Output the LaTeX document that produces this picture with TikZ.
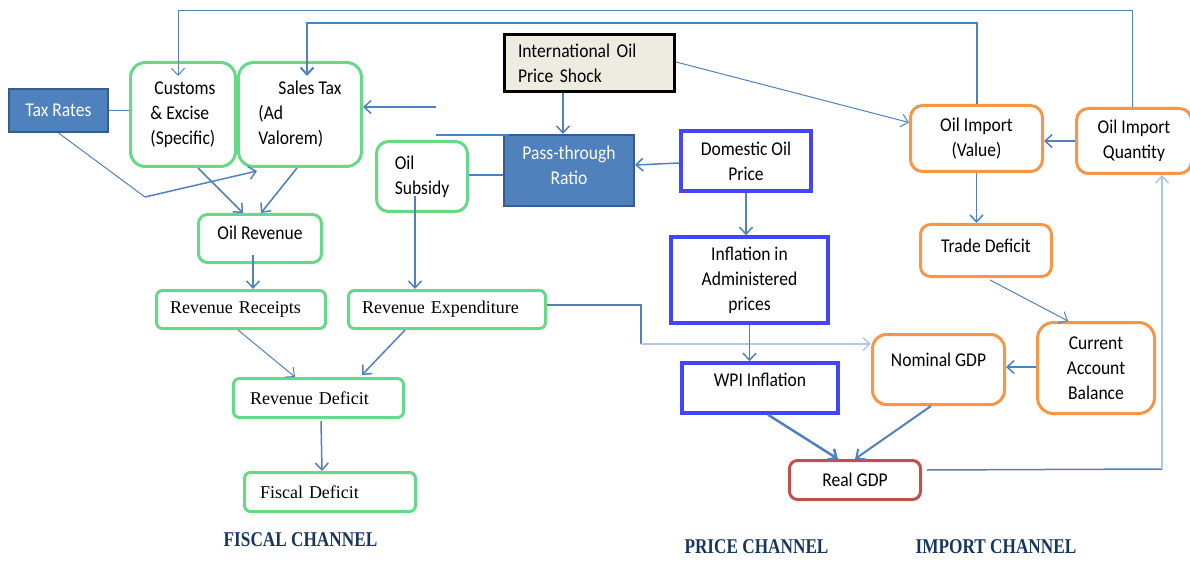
\documentclass[tikz,border=0pt]{standalone}
\usepackage{fontspec}
\setmainfont{Carlito}[FakeStretch=0.9]
\newfontfamily\serfam{Liberation Serif}
\newfontfamily\chanfam{Liberation Serif}[FakeStretch=0.82]
\usetikzlibrary{arrows.meta,calc}
\newcommand\myCal{\fontsize{19.5}{25}\selectfont}
\newcommand\mySer{\serfam\fontsize{18}{22}\selectfont}
\newcommand\myChan{\chanfam\bfseries\fontsize{21}{24}\selectfont}
\definecolor{lnblue}{RGB}{79,129,189}
\definecolor{lnlight}{RGB}{175,200,232}
\definecolor{grn}{RGB}{102,217,137}
\definecolor{org}{RGB}{247,150,70}
\definecolor{bbl}{RGB}{68,68,248}
\definecolor{rd}{RGB}{192,80,77}
\definecolor{fillb}{RGB}{79,129,189}
\definecolor{bordb}{RGB}{56,93,138}
\definecolor{beige}{RGB}{238,236,225}
\definecolor{navy}{RGB}{23,54,93}
\tikzset{
 base/.style={inner sep=0pt, align=center, font=\myCal, text=black},
 sz/.style 2 args={minimum width=#1, minimum height=#2},
 gbox/.style={base, draw=grn, line width=3pt, rounded corners=9pt, fill=white},
 obox/.style={base, draw=org, line width=3pt, rounded corners=12pt, fill=white},
 bbox/.style={base, draw=bbl, line width=3.5pt, fill=white},
 rbox/.style={base, draw=rd, line width=3pt, rounded corners=8pt, fill=white},
 sbox/.style={base, draw=bordb, fill=fillb, line width=2pt, text=white},
 kbox/.style={base, draw=black, fill=beige, line width=3pt},
 sertext/.style={font=\mySer},
 ln/.style={draw=lnblue, line width=1.5pt},
 arr/.style={ln, -{Straight Barb[length=7pt,width=13pt]}},
 thinarr/.style={arr, line width=1pt},
 chan/.style={font=\myChan, text=navy},
}
\begin{document}
\begin{tikzpicture}[x=1pt,y=-1pt]
\useasboundingbox (0,0) rectangle (1190,561);

% ---- nodes ----
\node[sbox, sz={99}{43}] (taxr) at (58.5,110.5) {Tax Rates};
\node[gbox, sz={105}{104}, rounded corners=15pt, align=left] (cust) at (183,114.5) {\hspace*{4pt}Customs\\\& Excise\\(Specific)};
\node[gbox, sz={123}{104}, rounded corners=15pt, align=left] (sales) at (300,114.5) {\hspace*{20pt}Sales Tax\\(Ad\\Valorem)};
\node[gbox, sz={91}{70}, rounded corners=12pt, align=left] (subs) at (422,176.5) {Oil\\Subsidy};
\node[kbox, sz={170}{57}, text width=143pt, align=left] (intl) at (589.5,63) {International Oil\\Price Shock};
\node[sbox, sz={130}{71}, text depth=10pt] (pass) at (569,170.5) {Pass-through\\Ratio};
\node[bbox, sz={130}{60}] (dom) at (746,161) {Domestic Oil\\Price};
\node[obox, sz={132}{66}] (oiv) at (976.5,138.5) {Oil Import\\(Value)};
\node[obox, sz={115}{65}] (oiq) at (1134,141) {Oil Import\\Quantity};
\node[gbox, sz={123}{48}, text depth=11pt] (orev) at (260,238.5) {Oil Revenue};
\node[gbox, sz={169}{38}, rounded corners=6pt, sertext, text width=142pt, align=left] (rrec) at (241,309.5) {Revenue Receipts};
\node[gbox, sz={197}{38}, rounded corners=6pt, sertext, text width=170pt, align=left] (rexp) at (447,309.5) {Revenue Expenditure};
\node[gbox, sz={170}{39}, rounded corners=6pt, sertext, text width=137pt, align=left] (rdef) at (318.5,398) {Revenue Deficit};
\node[gbox, sz={171}{39}, rounded corners=6pt, sertext, text width=140pt, align=left] (fdef) at (330,492) {Fiscal Deficit};
\node[bbox, sz={157}{86}] (infl) at (749.5,280) {Inflation in\\Administered\\prices};
\node[bbox, sz={156}{50}, text depth=16pt] (wpi) at (760,388) {WPI Inflation};
\node[obox, sz={132}{70}, rounded corners=14pt, text depth=19pt] (nom) at (938.5,369.5) {Nominal GDP};
\node[obox, sz={117}{91}, rounded corners=16pt] (cab) at (1096,368) {Current\\Account\\Balance};
\node[obox, sz={131}{52}, rounded corners=10pt, text depth=9pt] (trade) at (986,250.5) {Trade Deficit};
\node[rbox, sz={131}{39}] (rgdp) at (855,480) {Real GDP};

\node[chan] (fch) at (300.5,540) {FISCAL CHANNEL};
\node[chan] (pch) at (756.5,547) {PRICE CHANNEL};
\node[chan] (ich) at (996,547) {IMPORT CHANNEL};

% ---- helper coordinates ----
\coordinate (k1) at (145,197);
\coordinate (e1) at (641,305);
\coordinate (e2) at (641,344);
\coordinate (p1) at (436,135);
\coordinate (p2) at (436,107);
\coordinate (yt1) at (0,11);
\coordinate (yt2) at (0,23);
\coordinate (c2) at (178,11);
\coordinate (s2) at (307,23);
\coordinate (r1) at (1162,469);
\path ($(subs.east)+(0,-1.5)$) coordinate (s1);
\path ($(cab.west)+(0,-1)$) coordinate (cw);
\path ($(oiq.north)+(-2,0)$) coordinate (q1);
\path ($(rgdp.east)+(5,-10)$) coordinate (g1);
\path ($(rexp.east)+(0,-4.5)$) coordinate (x1);

% ---- connectors: fiscal ----
\draw[ln] (taxr.east) -- (taxr.east -| cust.west);
\draw[ln, line width=1pt] (taxr.south) -- (k1);
\draw[arr] (k1) -- ($(sales.south west)+(20,3)$);
\draw[arr] ($(cust.south)+(15,0)$) -- ($(orev.north)+(-17,0)$);
\draw[arr] ($(sales.south)+(-3,0)$) -- ($(orev.north)+(1,0)$);
\draw[arr] ($(subs.center)+(-7,20)$) -- ($(rexp.north)+(-32,0)$);
\draw[arr] ($(orev.center)+(-7,16)$) -- ($(rrec.north)+(12,0)$);
\draw[thinarr] ($(rrec.south)+(-3,0)$) -- ($(rdef.north)+(-23.5,0)$);
\draw[arr] ($(rexp.south)+(-42,0)$) -- ($(rdef.north)+(43.5,-2)$);
\draw[arr] ($(rdef.south)+(2.5,2)$) -- ($(fdef.north)+(-8,0)$);
\draw[ln] (s1) -- (s1 -| pass.west);
\draw[ln] ($(pass.north west)+(6,1)$) -- (p1);
\draw[arr] (p2) -- (p2 -| sales.east);

% ---- price ----
\draw[arr] ($(intl.south)+(-26.5,0)$) -- ($(pass.north)+(-6,0)$);
\draw[thinarr] ($(intl.east)+(0,-1)$) -- ($(oiv.west)+(0,-16)$);
\draw[arr] ($(dom.west)+(0,2)$) -- ($(pass.east)+(0,-5.5)$);
\draw[arr] (dom.south) -- (dom.south |- infl.north);
\draw[ln] (x1) -- (e1) -- (e2);
\draw[arr, draw=lnlight] (e2) -- (e2 -| nom.west);
\draw[arr] (infl.south) -- (infl.south |- wpi.north);
\draw[arr, line width=2.5pt] ($(wpi.south)+(8,0)$) -- ($(rgdp.north)+(-17,0)$);
\draw[arr, line width=2pt] ($(nom.south)+(-7.5,0)$) -- (rgdp.north);

% ---- import ----
\draw[arr] (cw) -- (cw -| nom.east);
\draw[thinarr] ($(trade.south)+(4,2)$) -- ($(cab.north)+(-28,0)$);
\draw[arr] (oiv.south) -- (oiv.south |- trade.north);
\draw[arr] (oiq.west) -- (oiq.west -| oiv.east);
\draw[arr, line width=2pt] (oiv.north) -- (oiv.north |- yt2) -- (s2) -- ($(sales.north)+(7,15)$);
\draw[thinarr] (q1) -- (q1 |- yt1) -- (c2) -- ($(cust.north)+(-5,15)$);
\draw[ln] (g1) -- (r1);
\draw[arr, draw=lnlight] (r1) -- (r1 |- oiq.south);
\end{tikzpicture}
\end{document}
